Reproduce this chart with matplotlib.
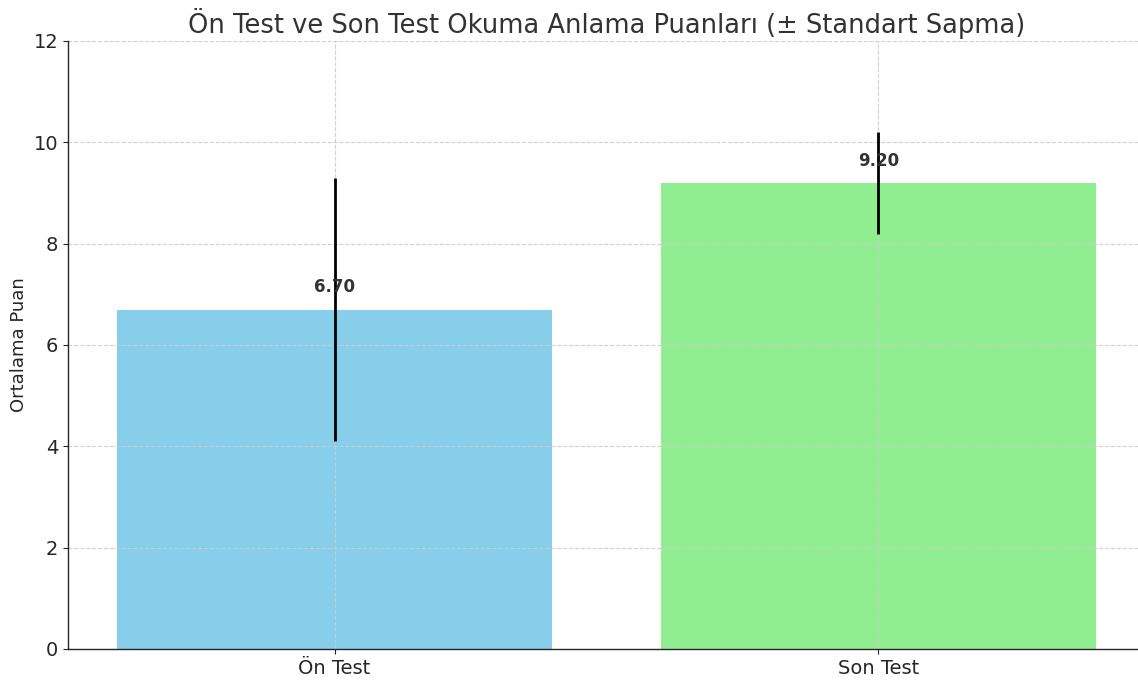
import matplotlib.pyplot as plt

# data
groups = ["Ön Test", "Son Test"]
means = [6.70, 9.20]
stds = [2.6, 1.0]
colors = ["skyblue", "lightgreen"]

fig = plt.figure(figsize=(11.38, 6.8), dpi=100)
# axes runs slightly past the right edge, as in the cropped original
ax = fig.add_axes([68 / 1138, 31 / 680, (1145 - 68) / 1138, 608 / 680])

x = list(range(len(groups)))
ax.bar(x, means, color=colors, width=0.8, zorder=1)
ax.grid(True, linestyle="--", color="#cccccc", linewidth=0.8, alpha=0.9, zorder=2)
ax.errorbar(x, means, yerr=stds, fmt="none", ecolor="black", elinewidth=2,
            capsize=0, zorder=3)

for xi, m in zip(x, means):
    ax.text(xi, m + 0.26, f"{m:.2f}", ha="center", va="bottom",
            fontsize=12, fontweight="bold", color="#333333", zorder=4)

ax.set_xticks(x)
ax.set_xticklabels(groups)
ax.set_xlim(-0.49, 1.49)
ax.set_ylim(0, 12)
ax.set_ylabel("Ortalama Puan", fontsize=13, color="#262626")
ax.set_title("Ön Test ve Son Test Okuma Anlama Puanları (± Standart Sapma)",
             fontsize=18.5, color="#333333")
ax.tick_params(labelsize=14, colors="#262626")
for s in ["top", "right"]:
    ax.spines[s].set_visible(False)
for s in ["left", "bottom"]:
    ax.spines[s].set_color("#262626")
    ax.spines[s].set_linewidth(1.0)

plt.savefig("out.png", dpi=100)
